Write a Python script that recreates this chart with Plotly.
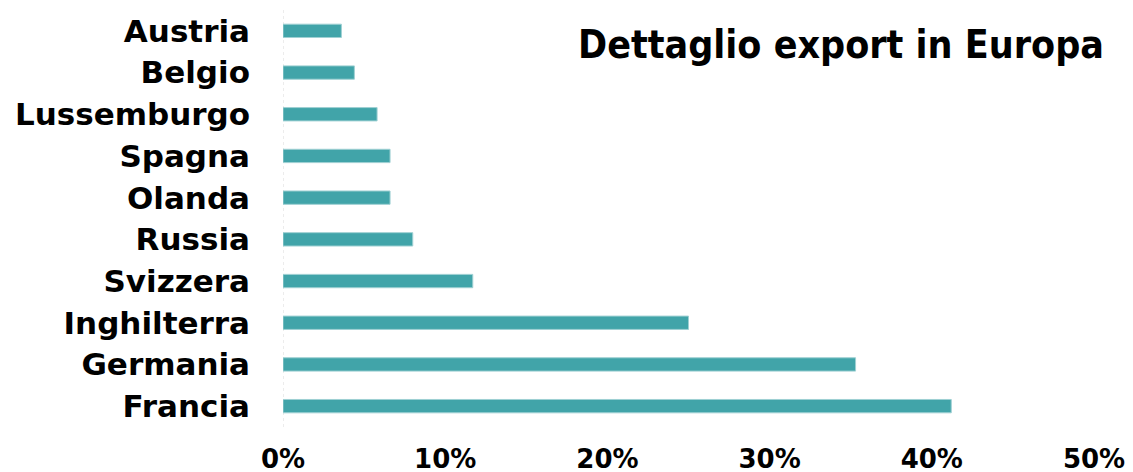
import plotly.graph_objects as go

countries = ["Francia", "Germania", "Inghilterra", "Svizzera", "Russia",
             "Olanda", "Spagna", "Lussemburgo", "Belgio", "Austria"]
shares = [0.412, 0.353, 0.250, 0.117, 0.080, 0.066, 0.066, 0.058, 0.044, 0.036]
tick_vals = [0, 0.1, 0.2, 0.3, 0.4, 0.5]
tick_text = ["0%", "10%", "20%", "30%", "40%", "50%"]
title_text = "Dettaglio export in Europa"

W, H = 1133, 472
L, R, T, B = 275, 47, 2, 53
pw, ph = W - L - R, H - T - B

fig = go.Figure(go.Bar(
    x=shares, y=countries, orientation="h",
    marker=dict(color="#41A4A9", line=dict(color="#9FD0D3", width=1)),
    hoverinfo="x+y",
))

fig.update_layout(
    width=W, height=H,
    margin=dict(l=L, r=R, t=T, b=B),
    paper_bgcolor="white", plot_bgcolor="white",
    bargap=0.68,
    showlegend=False,
    font=dict(family="DejaVu Sans", color="black"),
    xaxis=dict(range=[0, 0.5], tickvals=tick_vals, ticktext=tick_text,
               showgrid=False, zeroline=False, showline=False, automargin=False,
               ticks="", ticklabelstandoff=14,
               tickfont=dict(family="DejaVu Sans", size=26, weight="bold")),
    yaxis=dict(categoryorder="array", categoryarray=countries, automargin=False,
               range=[-0.5, 9.5], showgrid=False, zeroline=False, showline=False,
               ticks="", ticklabelstandoff=32,
               tickfont=dict(family="DejaVu Sans", size=31, weight="bold")),
    shapes=[dict(type="line", xref="x", yref="paper", x0=0, x1=0, y0=0, y1=1,
                 line=dict(color="#D9D9D9", width=1, dash="dot"), layer="below")],
    annotations=[dict(text=title_text, xref="paper", yref="paper",
                      x=(1098 - L) / pw, y=(H - B - 36) / ph,
                      xanchor="right", yanchor="middle", showarrow=False,
                      font=dict(family="DejaVu Sans Condensed, sans-serif",
                                size=39, weight="bold", color="black"))],
)

fig.write_html("out.html")
